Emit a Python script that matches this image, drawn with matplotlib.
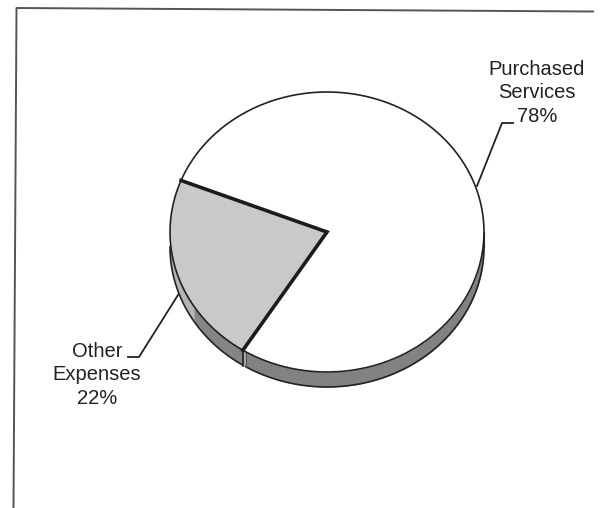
import numpy as np
import matplotlib
matplotlib.use("Agg")
import matplotlib.pyplot as plt
from matplotlib.transforms import Affine2D

categories = ["Purchased\nServices\n78%", "Other\nExpenses\n22%"]
shares = [78, 22]

plt.rcParams["font.family"] = "Liberation Sans"

W, H = 600, 508
fig = plt.figure(figsize=(W / 100, H / 100), dpi=100, facecolor="white")
ax = fig.add_axes([0, 0, 1, 1])

CX, CY, RX, RY, DEPTH = 327, 232, 157, 140, 15
START = -122.4
INK = "#222222"


def to_px(t, dy=0.0):
    return CX + RX * np.cos(np.radians(t)), CY - RY * np.sin(np.radians(t)) + dy


t_end = START + 360 * shares[0] / 100
t_other_end = t_end + 360 * shares[1] / 100

# Narrow lighter strip at the joint between the two wall sections
t0 = np.linspace(START - 0.5, START + 1.5, 10)
x0, y0 = to_px(t0)
ax.fill_between(x0, y0, y0 + DEPTH, color="#a8a8a8", lw=0, zorder=1)

# Side wall of the disc, drawn from the same angular shares as the top face
t1 = np.linspace(START + 1.2, 0, 200)
x1, y1 = to_px(t1)
ax.fill_between(x1, y1, y1 + DEPTH, color="#828282", lw=0, zorder=1)
ax.plot(x1, y1 + DEPTH, color=INK, lw=1.2, zorder=2)

t2a = np.linspace(180, 212, 60)
x2, y2 = to_px(t2a)
ax.fill_between(x2, y2, y2 + DEPTH, color="#b4b4b4", lw=0, zorder=1)
t2b = np.linspace(212, t_other_end, 60)
x3, y3 = to_px(t2b)
ax.fill_between(x3, y3, y3 + DEPTH, color="#858585", lw=0, zorder=1)
t2 = np.linspace(180, t_other_end, 120)
x4, y4 = to_px(t2)
ax.plot(x4, y4 + DEPTH, color=INK, lw=1.2, zorder=2)

# Vertical seams where the two wall sections meet, and at the right rim
xe, ye = to_px(t_other_end)
ax.plot([xe, xe], [ye, ye + DEPTH + 1], color=INK, lw=1.2, zorder=2)
xg, yg = to_px(START + 1.2)
ax.plot([xg, xg], [yg, yg + DEPTH], color="#555555", lw=0.8, zorder=2)
xr, yr = to_px(0)
ax.plot([xr, xr], [yr, yr + DEPTH], color=INK, lw=0.8, zorder=2)

# Top face: a unit pie stretched to the tilted ellipse
wedges, _ = ax.pie(shares, startangle=START, counterclock=True, radius=1,
                   colors=["white", "#c9c9c9"], wedgeprops=dict(lw=0))
stretch = Affine2D().scale(RX, -RY).translate(CX, CY) + ax.transData
for w in wedges:
    w.set_transform(stretch)
    w.set_zorder(3)

ax.plot(*to_px(np.linspace(START, t_other_end, 600)), color=INK, lw=1.2, zorder=4)
xs, ys = to_px(t_end)
ax.plot([xs, CX, xe], [ys, CY, ye], color="#1c1c1c", lw=2.6,
        solid_joinstyle="miter", zorder=5)

# Leader lines
ax.plot([477, 502, 513], [186, 123, 123], color=INK, lw=1.3, zorder=6)
ax.plot([178, 139, 128], [295, 357, 357], color=INK, lw=1.3, zorder=6)

# Labels
ax.text(537, 93, categories[0], ha="center", va="center", fontsize=14.5,
        linespacing=1.29, color=INK, zorder=7)
ax.text(97, 375, categories[1], ha="center", va="center", fontsize=14.5,
        linespacing=1.29, color=INK, zorder=7)

# Frame open at the bottom and right, slightly skewed as on the printed page
ax.plot([13.5, 16.5, 593], [508, 8, 11.5], color="#555555", lw=1.4, zorder=0)

ax.set_aspect("auto")
ax.set_xlim(0, W)
ax.set_ylim(H, 0)
ax.axis("off")
fig.savefig("out.png", dpi=100, facecolor="white")
